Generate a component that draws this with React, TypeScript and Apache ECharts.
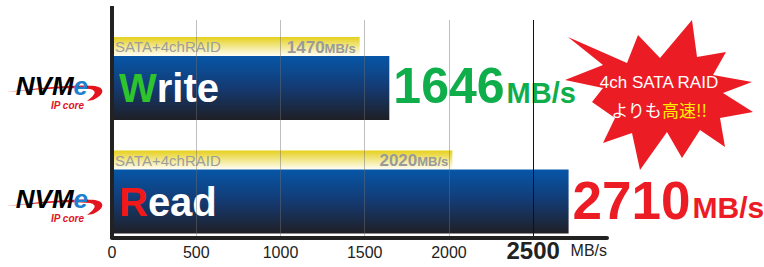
import React, { useEffect, useRef } from "react";
import * as echarts from "echarts";

const categories = ["Write", "Read"];
const nvmeValues = [1646, 2710];
const sataValues = [1470, 2020];
const sataName = "SATA+4chRAID";
const unit = "MB/s";
const xMax = 2938;
const tickInterval = 500;
const highlightTick = 2500;
const burstLine1 = "4ch SATA RAID";
const burstLine2a = "よりも";
const burstLine2b = "高速!!";

const FONT = "Liberation Sans, Arial, sans-serif";

echarts.graphic.registerShape(
  "swoosh",
  echarts.graphic.extendPath(
    "M0,9 C30,5 70,1 88,3 C99,5 97,12 86,17 L80,18 C88,12 91,8 83,6 C64,4 30,6 0,9 Z",
    {}
  ) as any
);

export default function App() {
  const ref = useRef<HTMLDivElement>(null);
  useEffect(() => {
    if (!ref.current) return;
    const chart = echarts.init(ref.current, null, { renderer: "svg" });
    const yellow = new echarts.graphic.LinearGradient(0, 0, 0, 1, [
      { offset: 0, color: "#e6d01c" },
      { offset: 0.5, color: "#f2e78c" },
      { offset: 1, color: "#fffef6" },
    ]);
    const blue = new echarts.graphic.LinearGradient(0, 0, 0, 1, [
      { offset: 0, color: "#0656a8" },
      { offset: 0.5, color: "#143a72" },
      { offset: 1, color: "#1f1f25" },
    ]);
    const grid = "rgba(110,110,110,0.45)";
    const burstPts = [
      [568, 37], [627, 63], [638, 35], [660, 58], [692, 20], [697, 57],
      [726, 52], [713, 75], [752, 82], [723, 93], [753, 112], [720, 118],
      [725, 147], [700, 130], [682, 158], [667, 132], [640, 170], [632, 133],
      [603, 143], [615, 118], [592, 102], [603, 88], [565, 80], [603, 65],
    ];
    const valueColors = ["#0fae4b", "#ec1c24"];
    const option: any = {
      animation: false,
      grid: [
        { left: 112, right: 157, top: 21.75, height: 227 },
        { left: 112, right: 157, top: 20, bottom: 29.5 },
      ],
      xAxis: [
        { gridIndex: 0, type: "value", min: 0, max: xMax, show: false },
        {
          gridIndex: 1,
          type: "value",
          min: 0,
          max: xMax,
          interval: tickInterval,
          z: 3,
          axisLine: { show: true, lineStyle: { color: "#222", width: 4 } },
          axisTick: { show: false },
          splitLine: {
            show: true,
            lineStyle: {
              color: [grid, grid, grid, grid, grid, "#111", "rgba(0,0,0,0)"],
              width: 1,
            },
          },
          axisLabel: {
            margin: 5,
            formatter: (v: number) =>
              v % tickInterval !== 0 ? "" : v === highlightTick ? `{b|${v}}` : `{r|${v}}`,
            rich: {
              r: { fontSize: 16, color: "#222", fontFamily: FONT, verticalAlign: "bottom", lineHeight: 20, padding: [0, 0, 2, 0] },
              b: { fontSize: 24, fontWeight: "bold", color: "#222", fontFamily: FONT, verticalAlign: "bottom", lineHeight: 20 },
            },
          },
          name: unit,
          nameLocation: "end",
          nameGap: 0,
          nameTextStyle: {
            align: "right",
            verticalAlign: "top",
            padding: [5, 0, 0, 0],
            fontSize: 16,
            color: "#222",
            fontFamily: FONT,
          },
        },
      ],
      yAxis: [
        {
          gridIndex: 0,
          type: "category",
          data: categories,
          inverse: true,
          axisLine: { show: false },
          axisTick: { show: false },
          axisLabel: {
            margin: 24,
            padding: [26, 0, 0, 0],
            formatter: () => "{n|NVM}{e|e}\n{ip|IP core}",
            rich: {
              n: { fontSize: 26, fontWeight: "bold", fontStyle: "italic", color: "#000", fontFamily: FONT, lineHeight: 27 },
              e: { fontSize: 26, fontWeight: "bold", fontStyle: "italic", color: "#1d7fd0", fontFamily: FONT, lineHeight: 27 },
              ip: { fontSize: 10, fontWeight: "bold", fontStyle: "italic", color: "#e0141e", fontFamily: FONT, lineHeight: 12, padding: [0, 4, 0, 0] },
            },
          },
        },
        {
          gridIndex: 1,
          type: "value",
          min: 0,
          max: 1,
          z: 3,
          axisLine: { show: true, lineStyle: { color: "#222", width: 4 } },
          axisTick: { show: false },
          axisLabel: { show: false },
          splitLine: { show: false },
        },
      ],
      series: [
        {
          type: "bar",
          xAxisIndex: 0,
          yAxisIndex: 0,
          stack: "sata",
          barWidth: 19,
          barGap: "0%",
          data: sataValues,
          itemStyle: { color: yellow },
          label: {
            show: true,
            position: "insideLeft",
            distance: 3,
            formatter: sataName,
            color: "#9d9d9d",
            fontSize: 15,
            fontFamily: FONT,
          },
        },
        {
          type: "bar",
          xAxisIndex: 0,
          yAxisIndex: 0,
          stack: "sata",
          barWidth: 19,
          barGap: "0%",
          data: sataValues.map(() => 0),
          itemStyle: { color: "rgba(0,0,0,0)" },
          label: {
            show: true,
            position: "left",
            distance: 4,
            formatter: (p: any) => `{n|${sataValues[p.dataIndex]}}{u|${unit}}`,
            rich: {
              n: { fontSize: 17, fontWeight: "bold", color: "#9a9a9a", fontFamily: FONT, verticalAlign: "bottom", lineHeight: 18 },
              u: { fontSize: 13, fontWeight: "bold", color: "#9a9a9a", fontFamily: FONT, verticalAlign: "bottom", lineHeight: 18, padding: [0, 0, 1, 0] },
            },
          },
        },
        {
          type: "bar",
          xAxisIndex: 0,
          yAxisIndex: 0,
          stack: "nvme",
          barWidth: 64,
          barGap: "0%",
          data: categories.map(() => 0),
          itemStyle: { color: "rgba(0,0,0,0)" },
          label: {
            show: true,
            position: "right",
            distance: 7,
            formatter: (p: any) => {
              const name = categories[p.dataIndex];
              return `{c${p.dataIndex}|${name[0]}}{w|${name.slice(1)}}`;
            },
            rich: {
              c0: { fontSize: 40, fontWeight: "bold", color: "#2ec42e", fontFamily: FONT },
              c1: { fontSize: 40, fontWeight: "bold", color: "#f01818", fontFamily: FONT },
              w: { fontSize: 40, fontWeight: "bold", color: "#ffffff", fontFamily: FONT },
            },
          },
        },
        {
          type: "bar",
          xAxisIndex: 0,
          yAxisIndex: 0,
          stack: "nvme",
          barWidth: 64,
          barGap: "0%",
          data: nvmeValues,
          itemStyle: { color: blue },
          label: {
            show: true,
            position: "right",
            distance: 4,
            formatter: (p: any) =>
              `{n${p.dataIndex}|${nvmeValues[p.dataIndex]}}{u${p.dataIndex}|${unit}}`,
            rich: {
              n0: { fontSize: 50, fontWeight: "bold", color: valueColors[0], fontFamily: FONT, verticalAlign: "bottom", lineHeight: 46 },
              u0: { fontSize: 29, fontWeight: "bold", color: valueColors[0], fontFamily: FONT, verticalAlign: "bottom", lineHeight: 46, padding: [0, 0, 4, 2] },
              n1: { fontSize: 53, fontWeight: "bold", color: valueColors[1], fontFamily: FONT, verticalAlign: "bottom", lineHeight: 50 },
              u1: { fontSize: 30, fontWeight: "bold", color: valueColors[1], fontFamily: FONT, verticalAlign: "bottom", lineHeight: 50, padding: [0, 0, 4, 2] },
            },
          },
        },
      ],
      graphic: [
        { type: "rect", shape: { x: 110, y: 6, width: 4, height: 15 }, style: { fill: "#222" }, z: 5 },
        { type: "swoosh", x: 7, y: 83, style: { fill: "#e3141d" }, z: 0 },
        { type: "swoosh", x: 7, y: 197, style: { fill: "#e3141d" }, z: 0 },
        { type: "polygon", shape: { points: burstPts }, style: { fill: "#ec1c24" }, z: 1 },
        {
          type: "text",
          x: 659,
          y: 96,
          z: 1,
          style: {
            text: `${burstLine1}\n{w|${burstLine2a}}{y|${burstLine2b}}`,
            fill: "#ffffff",
            fontSize: 17,
            fontFamily: "Liberation Sans, Noto Sans CJK JP, sans-serif",
            align: "center",
            verticalAlign: "middle",
            lineHeight: 27,
            rich: {
              w: { fill: "#ffffff", fontSize: 17, fontFamily: "Noto Sans CJK JP, sans-serif", lineHeight: 27 },
              y: { fill: "#ffee00", fontSize: 17, fontFamily: "Noto Sans CJK JP, sans-serif", lineHeight: 27 },
            },
          },
        },
      ],
    };
    chart.setOption(option);
    return () => chart.dispose();
  }, []);
  return <div ref={ref} style={{ width: 764, height: 267, position: "absolute", left: 0, top: 0 }} />;
}
